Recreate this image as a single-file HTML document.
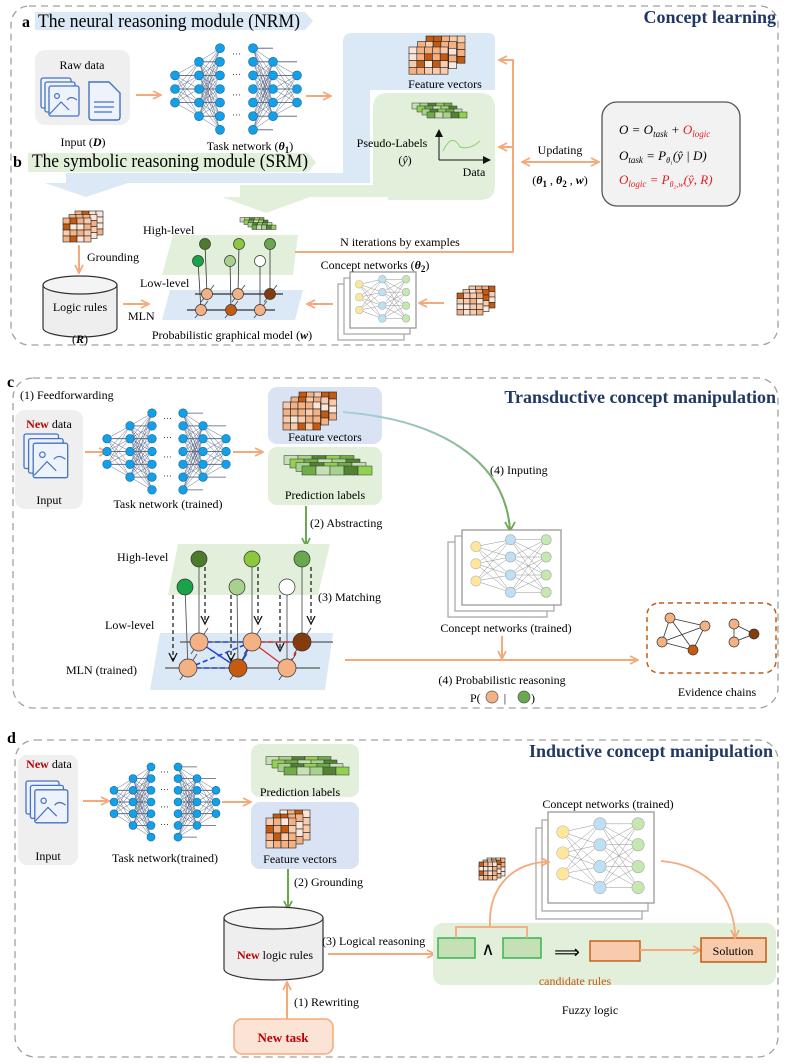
<!DOCTYPE html>
<html><head><meta charset="utf-8">
<style>
html,body{margin:0;padding:0;background:#fff;}
svg{display:block;font-family:"Liberation Serif",serif;}
</style></head>
<body>
<svg id="s" width="789" height="1064" viewBox="0 0 789 1064" xmlns="http://www.w3.org/2000/svg">
<defs>
<marker id="ao" markerWidth="10" markerHeight="10" refX="8" refY="5" orient="auto" markerUnits="userSpaceOnUse"><path d="M1,1 L9,5 L1,9" fill="none" stroke="#f4a97a" stroke-width="1.8"/></marker>
<marker id="aos" markerWidth="10" markerHeight="10" refX="2" refY="5" orient="auto" markerUnits="userSpaceOnUse"><path d="M9,1 L1,5 L9,9" fill="none" stroke="#f4a97a" stroke-width="1.8"/></marker>
<marker id="ag" markerWidth="10" markerHeight="10" refX="8" refY="5" orient="auto" markerUnits="userSpaceOnUse"><path d="M1,1 L9,5 L1,9" fill="none" stroke="#6aa84f" stroke-width="1.8"/></marker>
<marker id="ak" markerWidth="10" markerHeight="10" refX="8" refY="5" orient="auto" markerUnits="userSpaceOnUse"><path d="M1,1 L9,5 L1,9" fill="none" stroke="#111" stroke-width="1.3"/></marker>
<marker id="akf" markerWidth="8" markerHeight="8" refX="7" refY="4" orient="auto" markerUnits="userSpaceOnUse"><path d="M0,0 L8,4 L0,8z" fill="#111"/></marker>
</defs>
<g id="g"></g>
</svg>
<script>
var h='';
function A(s){h+=s;}
function R(x,y,w,hh,f,s,sw,rx,extra){A('<rect x="'+x+'" y="'+y+'" width="'+w+'" height="'+hh+'" fill="'+f+'" stroke="'+(s||'none')+'" stroke-width="'+(sw||1)+'" rx="'+(rx||0)+'" '+(extra||'')+'/>');}
function C(x,y,r,f,s,sw){A('<circle cx="'+x+'" cy="'+y+'" r="'+r+'" fill="'+f+'" stroke="'+(s||'#333')+'" stroke-width="'+(sw||0.7)+'"/>');}
function L(x1,y1,x2,y2,s,sw,extra){A('<line x1="'+x1+'" y1="'+y1+'" x2="'+x2+'" y2="'+y2+'" stroke="'+s+'" stroke-width="'+(sw||1)+'" '+(extra||'')+'/>');}
function P(d,f,s,sw,extra){A('<path d="'+d+'" fill="'+(f||'none')+'" stroke="'+(s||'none')+'" stroke-width="'+(sw||1)+'" '+(extra||'')+'/>');}
function T(x,y,t,sz,anc,extra){A('<text x="'+x+'" y="'+y+'" font-size="'+sz+'" text-anchor="'+(anc||'start')+'" '+(extra||'')+'>'+t+'</text>');}
var OR='#f4a97a';
var seed=7;function rnd(){seed=(seed*9301+49297)%233280;return seed/233280;}
function taskNet(xs,ym,sp,r){
  var counts=[3,5,7,7,5,3];var cols=[];
  for(var i=0;i<6;i++){var ys=[];for(var j=0;j<counts[i];j++)ys.push(ym+(j-(counts[i]-1)/2)*sp);cols.push(ys);}
  var pairs=[[0,1],[1,2],[3,4],[4,5]];
  pairs.forEach(function(p){cols[p[0]].forEach(function(a){cols[p[1]].forEach(function(b){L(xs[p[0]],a,xs[p[1]],b,'#4d5b7c',0.45);});});});
  [[0,1],[1,2],[3,4],[4,5]].forEach(function(p){cols[p[0]].forEach(function(a){L(xs[p[0]],a,xs[p[1]],a,'#4d5b7c',0.8);});});
  var mx=(xs[2]+xs[3])/2;
  [-2.5,-1,0.5,2].forEach(function(k){T(mx,ym+k*sp+2,'···',9,'middle','fill="#333"');});
  for(var i=0;i<6;i++)cols[i].forEach(function(y){C(xs[i],y,r,'#14a0e6','#1768a0',0.6);});
}
function cube(x,y,cw,ch,nc,nr,ox,oy,nl){
  var pal=['#f8cbad','#f4b183','#fbe5d6','#c55a11','#f4b183','#f8cbad','#fde9d9','#f4b183'];
  for(var l=nl-1;l>=0;l--){var bx=x+l*ox,by=y-l*oy;
    for(var i=0;i<nc;i++)for(var j=0;j<nr;j++){R(bx+i*cw,by+j*ch,cw,ch,pal[Math.floor(rnd()*pal.length)],'#222',0.6);}
  }
}
function gstack(x,y,cw,ch,n,ox,oy){
  var pal=['#70ad47','#c5e0b4','#a9d18e','#548235','#92d050'];
  for(var l=n-1;l>=0;l--){var bx=x-l*ox,by=y-l*oy;
    for(var i=0;i<5;i++)R(bx+i*cw,by,cw,ch,pal[(i+l*2)%5],'#333',0.5);}
}
function cnet(x,y,w,hh,offs){
  offs.slice().reverse().forEach(function(o){R(x+o[0],y+o[1],w,hh,'#fff','#aaa',1.3);});
  R(x,y,w,hh,'#fff','#999',1.3);
  var r=hh*0.068;
  var c1=[0.22,0.45,0.68].map(function(v){return y+v*hh;});
  var c2=[0.13,0.36,0.6,0.83].map(function(v){return y+v*hh;});
  var x1=x+0.14*w,x2=x+0.49*w,x3=x+0.85*w;
  c1.forEach(function(a){c2.forEach(function(b){L(x1,a,x2,b,'#888',0.45);});});
  c2.forEach(function(a){c2.forEach(function(b){L(x2,a,x3,b,'#888',0.45);});});
  c1.forEach(function(a){C(x1,a,r,'#ffe699','#bbb',0.6);});
  c2.forEach(function(a){C(x2,a,r,'#bde0f5','#aaa',0.6);});
  c2.forEach(function(a){C(x3,a,r,'#c5e8b0','#aaa',0.6);});
}
function imgIcon(x,y,s){
  var c='#4472c4';
  R(x,y,s*0.75,s*0.75,'#eef3fb',c,1.3,2);
  R(x+s*0.1,y+s*0.1,s*0.75,s*0.75,'#eef3fb',c,1.3,2);
  R(x+s*0.2,y+s*0.2,s*0.75,s*0.75,'#eef3fb',c,1.3,2);
  C(x+s*0.4,y+s*0.45,s*0.06,'none',c,1.2);
  P('M'+(x+s*0.22)+','+(y+s*0.9)+' L'+(x+s*0.5)+','+(y+s*0.6)+' L'+(x+s*0.7)+','+(y+s*0.8)+' M'+(x+s*0.65)+','+(y+s*0.55)+' q'+(s*0.1)+','+(-s*0.12)+' '+(s*0.25)+',0','none',c,1.2);
}
function cyl(x,y,w,hh,ry){
  P('M'+x+','+(y+ry)+' L'+x+','+(y+hh-ry)+' A'+(w/2)+','+ry+' 0 0 0 '+(x+w)+','+(y+hh-ry)+' L'+(x+w)+','+(y+ry),'#eeeeee','#333',1.2);
  A('<ellipse cx="'+(x+w/2)+'" cy="'+(y+ry)+'" rx="'+(w/2)+'" ry="'+ry+'" fill="#f4f4f4" stroke="#333" stroke-width="1.2"/>');
}
function ar(x1,y1,x2,y2,col,m){L(x1,y1,x2,y2,col,2,'marker-end="url(#'+m+')"');}

/* ================= PANEL A/B ================= */
R(11,6,767,339,'none','#a0a0a0',1.3,18,'stroke-dasharray="7 5"');
T(776,23,'Concept learning',18,'end','font-weight="bold" fill="#1f3864"');
P('M35,12 L305,12 L313,21 L305,30 L35,30z','#dbe8f6');
T(22,27,'a',16,'start','font-weight="bold"');
T(38,27,'The neural reasoning module (NRM)',19,'start','textLength="262" lengthAdjust="spacingAndGlyphs"');
P('M352,33 L488,33 Q495,33 495,40 L495,90 L370,90 L370,183 L66,183 L66,173 L343,173 L343,42 Q343,33 352,33z','#dbe8f6');
P('M45,183 L128,183 L86,197z','#dbe8f6');
P('M388,93 L480,93 Q495,93 495,108 L495,185 Q495,200 480,200 L388,200 L388,197 L240,197 L240,185 L373,185 L373,108 Q373,93 388,93z','#e2efda');
P('M222,197 L310,197 L266,213z','#e2efda');
P('M28,153 L308,153 L316,162.5 L308,172 L28,172z','#e2efda');
T(13,167,'b',16,'start','font-weight="bold"');
T(32,167,'The symbolic reasoning module (SRM)',19,'start','textLength="276" lengthAdjust="spacingAndGlyphs"');
R(35,50,95,75,'#efefef','none',1,10);
T(82,69,'Raw data',12,'middle');
imgIcon(41,78,40);
P('M89,82 L109,82 L120,93 L120,117 Q120,120 117,120 L92,120 Q89,120 89,117z','#eef3fb','#4472c4',1.4);
L(94,102,114,102,'#4472c4',1.2);L(94,107,114,107,'#4472c4',1.2);L(94,112,112,112,'#4472c4',1.2);
T(83,146,'Input (<tspan font-weight="bold" font-style="italic">D</tspan>)',12,'middle');
ar(136,95,160,95,OR,'ao');
taskNet([175,199,220,253,273,297],89,13.6,4.5);
T(250,150,'Task network (<tspan font-weight="bold" font-style="italic">θ</tspan><tspan font-size="9" dy="3" font-weight="bold">1</tspan><tspan dy="-3">)</tspan>',12,'middle');
ar(306,96,330,96,OR,'ao');
cube(409,47,7.8,6.8,5,4,8.5,5.5,3);
T(445,88,'Feature vectors',12,'middle');
gstack(427,112,8,6,4,5,3);
T(392,147,'Pseudo-Labels',12,'middle');
T(405,164,'(<tspan font-style="italic">ŷ</tspan>)',12,'middle');
L(439,160,439,130,'#111',1,'marker-end="url(#akf)"');L(439,160,490,160,'#111',1,'marker-end="url(#akf)"');
P('M443,151 Q452,132 460,147 Q470,150 480,141','none','#8fcf6e',1);
T(474,176,'Data',12,'middle');
P('M295,252 L513,252 L513,60 L500,60','none',OR,2,'marker-end="url(#ao)"');
ar(513,147,500,147,OR,'ao');
L(523,162,598,162,OR,2,'marker-end="url(#ao)" marker-start="url(#aos)"');
T(560,154,'Updating',12,'middle');
T(560,184,'(<tspan font-weight="bold" font-style="italic">θ</tspan><tspan font-size="9" dy="3" font-weight="bold">1</tspan><tspan dy="-3"> , </tspan><tspan font-weight="bold" font-style="italic">θ</tspan><tspan font-size="9" dy="3" font-weight="bold">2</tspan><tspan dy="-3"> , </tspan><tspan font-weight="bold" font-style="italic">w</tspan>)',12,'middle');
R(602,102,138,104,'#f2f2f2','#555',1.3,15);
A('<g font-family="Liberation Serif, serif" font-style="italic" font-size="13">');
T(619,134,'O = O<tspan font-size="9" dy="3">task</tspan><tspan dy="-3"> + </tspan><tspan fill="#e02020">O</tspan><tspan fill="#e02020" font-size="9" dy="3">logic</tspan>',13);
T(619,160,'O<tspan font-size="9" dy="3">task</tspan><tspan dy="-3"> = P</tspan><tspan font-size="8" dy="3">θ₁</tspan><tspan dy="-3">(ŷ | D)</tspan>',13);
T(619,184,'O<tspan font-size="9" dy="3">logic</tspan><tspan dy="-3"> = P</tspan><tspan font-size="8" dy="3">θ₂,w</tspan><tspan dy="-3">(ŷ, R)</tspan>',13,'start','fill="#e02020"');
A('</g>');
cube(63,218,7,6,4,4,6,3.5,3);
ar(79,245,79,272,OR,'ao');
T(87,261,'Grounding',12);
cyl(43,276,74,61,9);
T(80,311,'Logic rules',12,'middle');
T(80,343,'(<tspan font-weight="bold" font-style="italic">R</tspan>)',12,'middle');
ar(123,304,148,304,OR,'ao');
P('M173,235 L298,235 L293,275 L162,275z','#e2efda');
P('M170,290 L303,290 L295,320 L162,320z','#dbe8f6');
gstack(252,225,4.8,4.5,4,4,2.5);
T(143,234,'High-level',12);
T(140,287,'Low-level',12);
T(128,320,'MLN',12);
L(295,252,513,252,OR,2);
T(400,246,'N iterations by examples',12,'middle');
L(195,294,283,294,'#333',1.2);L(187,310,275,310,'#333',1.2);
[[207,294],[238,294],[270,294],[201,310],[231,310],[260,310]].forEach(function(p){L(p[0]-6,p[1]+8,p[0]+7,p[1]-9,'#444',0.8);});
[[205,244,207,294],[239,244,238,294],[270,244,270,294],[198,261,201,310],[230,261,231,310],[260,261,260,310]].forEach(function(p){L(p[0],p[1],p[2],p[3],'#333',0.8);});
C(205,244,5.5,'#4e7a2e');C(239,244,5.5,'#8dc63f');C(270,244,5.5,'#6aa84f');
C(198,261,5.5,'#1aa34a');C(230,261,5.5,'#a9d18e');C(260,261,5.5,'#ffffff');
C(207,294,5.5,'#f4b183');C(238,294,5.5,'#f4b183');C(270,294,5.5,'#843c0c');
C(201,310,5.5,'#f4b183');C(231,310,5.5,'#c55a11');C(260,310,5.5,'#f4b183');
T(232,339,'Probabilistic graphical model (<tspan font-weight="bold" font-style="italic">w</tspan>)',12,'middle');
T(375,269,'Concept networks (<tspan font-weight="bold" font-style="italic">θ</tspan><tspan font-size="9" dy="3" font-weight="bold">2</tspan><tspan dy="-3">)</tspan>',12,'middle');
cnet(350,272,66,56,[[-6,6],[-12,12]]);
ar(333,304,308,304,OR,'ao');
cube(457,293,6.5,5.5,4,4,6,3.5,3);
ar(444,303,420,303,OR,'ao');

/* ================= PANEL C ================= */
R(13,378,765,330,'none','#a0a0a0',1.3,20,'stroke-dasharray="7 5"');
T(7,387,'c',16,'start','font-weight="bold"');
T(776,403,'Transductive concept manipulation',18,'end','font-weight="bold" fill="#1f3864"');
T(20,399,'(1) Feedforwarding',12);
R(15,410,68,99,'#efefef','none',1,10);
T(49,428,'<tspan fill="#c00000" font-weight="bold">New</tspan> data',12,'middle');
imgIcon(24,434,46);
T(49,504,'Input',12,'middle');
ar(85,452,106,452,OR,'ao');
taskNet([107,130,152,183,203,226],451.5,12.8,4.3);
T(168,508,'Task network (trained)',12,'middle');
ar(233,452,262,452,OR,'ao');
R(268,387,114,57,'#dae3f3','none',1,9);
cube(283,402,7.5,7,5,4,8,5,3);
T(325,441,'Feature vectors',12,'middle');
R(268,447,114,58,'#e2efda','none',1,9);
gstack(302,466,14,9,4,6,3.5);
T(325,499,'Prediction labels',12,'middle');
A('<defs><linearGradient id="cg" x1="0" y1="0" x2="1" y2="1"><stop offset="0" stop-color="#a9cfe0"/><stop offset="1" stop-color="#6aa84f"/></linearGradient></defs>');
P('M343,412 C440,420 505,460 510,530','none','url(#cg)',2);
P('M505,522 L510,531 L515,522','none','#6aa84f',1.8);
T(490,474,'(4) Inputing',12);
ar(306,506,306,545,'#6aa84f','ag');
T(310,527,'(2) Abstracting',12);
P('M178,544 L330,544 L318,595 L168,595z','#e2efda');
P('M160,633 L333,633 L325,690 L150,690z','#dbe8f6');
T(117,561,'High-level',12);
T(105,629,'Low-level',12);
T(66,674,'MLN (trained)',12);
T(318,601,'(3) Matching',12);
L(180,642,333,642,'#333',1.1);L(165,668,320,668,'#333',1.1);
[[199,642],[252,642],[302,642],[188,668],[238,668],[287,668]].forEach(function(p){L(p[0]-8,p[1]+12,p[0]+9,p[1]-14,'#444',0.8);});
[[199,559,199,642],[252,559,252,642],[302,559,302,642],[185,587,188,668],[237,587,238,668],[287,587,287,668]].forEach(function(p){L(p[0],p[1],p[2],p[3],'#555',0.9);});
L(199,642,252,642,'#1f3fd6',1.6,'stroke-dasharray="5 3"');
L(199,642,238,668,'#1f3fd6',1.4);
L(188,668,252,642,'#1f3fd6',1.6,'stroke-dasharray="5 3"');
L(188,668,238,668,'#1f3fd6',1.6,'stroke-dasharray="5 3"');
L(238,668,252,642,'#1f3fd6',1.4);
L(252,642,302,642,'#e02020',1.6,'stroke-dasharray="5 3"');
L(252,642,287,668,'#e02020',1.2);
L(287,668,302,642,'#e02020',1.6,'stroke-dasharray="4 3"');
[[205,567,623],[258,567,623],[311,567,623],[173,595,660],[231,595,660],[280,595,650]].forEach(function(p){L(p[0],p[1],p[0],p[2],'#111',1.2,'stroke-dasharray="4 3" marker-end="url(#ak)"');});
C(199,559,8,'#4e7a2e');C(252,559,8,'#8dc63f');C(302,559,8,'#6aa84f');
C(185,587,8,'#1aa34a');C(237,587,8,'#a9d18e');C(287,587,8,'#ffffff');
C(199,642,9,'#f4b183');C(252,642,9,'#f4b183');C(302,642,9,'#843c0c');
C(188,668,9,'#f4b183');C(238,668,9,'#c55a11');C(287,668,9,'#f4b183');
cnet(462,530,99,75,[[-7,6],[-14,12]]);
T(506,632,'Concept networks (trained)',12,'middle');
ar(502,636,502,658,OR,'ao');
ar(345,660,637,660,OR,'ao');
T(502,684,'(4) Probabilistic reasoning',12,'middle');
T(470,702,'P(',12);C(492,697,6,'#f4b183','#555');T(505,702,'|',12,'middle');C(524,697,6,'#6aa84f','#555');T(531,702,')',12);
R(647,603,129,70,'none','#c55a11',1.5,12,'stroke-dasharray="5 4"');
[[0,1],[0,2],[0,3],[1,2],[1,3],[2,3]].forEach(function(e){var n=[[670,618],[705,626],[662,642],[693,650]];L(n[e[0]][0],n[e[0]][1],n[e[1]][0],n[e[1]][1],'#333',0.8);});
L(734,624,754,634,'#333',0.8);L(734,624,734,642,'#333',0.8);L(734,642,754,634,'#333',0.8);
C(670,618,5,'#f4b183');C(705,626,5,'#f4b183');C(662,642,5,'#f4b183');C(693,650,5,'#c55a11');
C(734,624,5,'#f4b183');C(754,634,5,'#843c0c');C(734,642,5,'#f4b183');
T(717,696,'Evidence chains',12,'middle');

/* ================= PANEL D ================= */
R(15,740,763,317,'none','#a0a0a0',1.3,20,'stroke-dasharray="7 5"');
T(7,743,'d',16,'start','font-weight="bold"');
T(773,757,'Inductive concept manipulation',18,'end','font-weight="bold" fill="#1f3864"');
R(18,755,60,110,'#efefef','none',1,9);
T(49,768,'<tspan fill="#c00000" font-weight="bold">New</tspan> data',12,'middle');
imgIcon(26,781,44);
T(48,860,'Input',12,'middle');
ar(83,801,108,801,OR,'ao');
taskNet([114,133,151,178,197,216],802,11.7,4);
T(165,862,'Task network(trained)',12,'middle');
ar(222,802,250,802,OR,'ao');
R(251,744,108,53,'#e2efda','none',1,9);
gstack(284,767,13,8,4,6,3.5);
T(300,796,'Prediction labels',12,'middle');
R(251,802,108,67,'#dae3f3','none',1,9);
cube(266,818,7.5,7.5,4,4,7,4,3);
T(300,863,'Feature vectors',12,'middle');
ar(288,869,288,908,'#6aa84f','ag');
T(294,886,'(2) Grounding',12);
cyl(224,907,99,73,11);
T(275,959,'<tspan fill="#c00000" font-weight="bold">New</tspan> logic rules',12,'middle');
ar(287,1019,287,983,OR,'ao');
T(294,1006,'(1) Rewriting',12);
R(234,1019,99,35,'#fbe3d6','#f4a97a',1.5,8);
T(283,1042,'New task',13,'middle','fill="#c00000" font-weight="bold"');
T(322,945,'(3) Logical reasoning',12);
ar(328,954,434,954,OR,'ao');
R(433,923,343,62,'#e2efda','none',1,10);
R(438,938,37,20,'#c5e0b4','#2cb34a',1.4);
R(503,938,38,20,'#c5e0b4','#2cb34a',1.4);
T(488,955,'∧',18,'middle');
T(567,958,'⟹',18,'middle');
R(590,941,50,20,'#f8cbad','#c55a11',1.4);
ar(640,950,700,950,OR,'ao');
R(701,938,65,24,'#f8cbad','#c55a11',1.5);
T(733,955,'Solution',12,'middle');
T(575,985,'candidate rules',12,'middle','fill="#c55a11"');
T(590,1014,'Fuzzy logic',12,'middle');
cnet(548,812,106,91,[[-6,8],[-12,16]]);
T(608,808,'Concept networks (trained)',12,'middle');
cube(479,862,4.5,4.5,4,4,4,2,3);
P('M456,938 L456,927 L527,927 L527,938','none',OR,1.8);
P('M490,927 C488,885 515,862 548,862','none',OR,1.8,'marker-end="url(#ao)"');
P('M661,861 C710,865 735,900 735,937','none',OR,1.8,'marker-end="url(#ao)"');

document.getElementById('g').innerHTML=h;
</script>
</body></html>
